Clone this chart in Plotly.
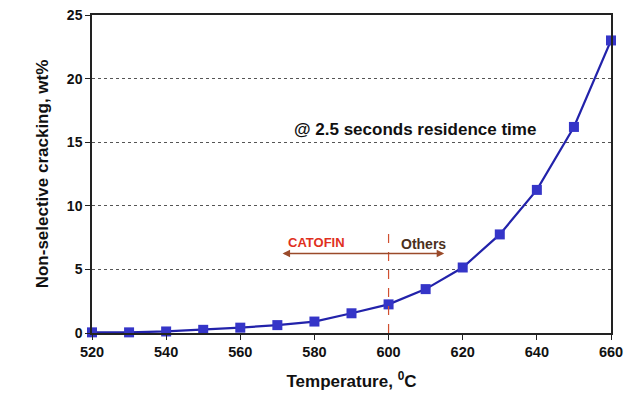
import plotly.graph_objects as go

temperature = [520, 530, 540, 550, 560, 570, 580, 590, 600, 610, 620, 630, 640, 650, 660]
cracking = [0.05, 0.05, 0.12, 0.25, 0.42, 0.62, 0.9, 1.55, 2.25, 3.45, 5.15, 7.75, 11.25, 16.2, 23.0]
x_ticks = [520, 540, 560, 580, 600, 620, 640, 660]
y_ticks = [0, 5, 10, 15, 20, 25]

FONT = "Liberation Sans, Arial, sans-serif"

fig = go.Figure()
fig.add_trace(go.Scatter(
    x=temperature, y=cracking, mode="lines+markers",
    line=dict(color="#2222aa", width=2.2),
    marker=dict(symbol="square", size=10, color="#3535c8", line=dict(width=0)),
    showlegend=False, cliponaxis=False,
))

# dashed boundary at 600 C
fig.add_shape(type="line", x0=600, x1=600, y0=0, y1=7.8, xref="x", yref="y",
              line=dict(color="#d05030", width=1.2, dash="dash"))
# double-headed arrow
fig.add_annotation(x=615, y=6.25, ax=571, ay=6.25, xref="x", yref="y", axref="x", ayref="y",
                   showarrow=True, arrowhead=2, startarrowhead=2, arrowside="end+start",
                   arrowsize=1, startarrowsize=1, arrowwidth=1.5, arrowcolor="#9a4a2a", text="")
fig.add_annotation(x=580.5, y=7.1, xref="x", yref="y", text="<b>CATOFIN</b>", showarrow=False,
                   font=dict(family=FONT, size=13, color="#e0301e"))
fig.add_annotation(x=609.5, y=7.0, xref="x", yref="y", text="<b>Others</b>", showarrow=False,
                   font=dict(family=FONT, size=14, color="#4a3020"))
fig.add_annotation(x=607, y=16.0, xref="x", yref="y", text="<b>@ 2.5 seconds residence time</b>",
                   showarrow=False, font=dict(family=FONT, size=17, color="#111111"))

fig.update_layout(
    width=635, height=391,
    margin=dict(l=84, r=32, t=7, b=66),
    paper_bgcolor="white", plot_bgcolor="white",
    font=dict(family=FONT, size=15, color="#111111"),
    xaxis=dict(
        range=[520, 660], tickvals=x_ticks, ticktext=[f"<b>{v}</b>" for v in x_ticks],
        tickfont=dict(size=14.5),
        showgrid=False, zeroline=False, showline=True, linecolor="#222222", linewidth=1.5,
        mirror=True, ticks="outside", ticklen=5, tickcolor="#222222", automargin=False,
        ticklabeloverflow="allow",
        title=dict(text="<b>Temperature, <sup>0</sup>C</b>", font=dict(size=17), standoff=16),
    ),
    yaxis=dict(
        range=[0, 25], tickvals=y_ticks, ticktext=[f"<b>{v}</b>" for v in y_ticks],
        tickfont=dict(size=14),
        showgrid=True, gridcolor="#555555", griddash="dot", gridwidth=1,
        zeroline=False, showline=True, linecolor="#222222", linewidth=1.5,
        mirror=True, ticks="outside", ticklen=5, tickcolor="#222222", automargin=False,
        ticklabeloverflow="allow",
        title=dict(text="<b>Non-selective cracking, wt%</b>", font=dict(size=17), standoff=14),
    ),
)

fig.write_html("out.html")
